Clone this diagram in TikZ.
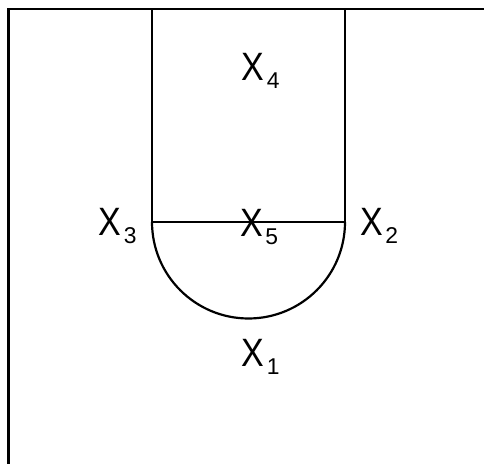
\documentclass[tikz,border=0pt]{standalone}
\usepackage{fontspec}
\setmainfont{Liberation Sans}
\usepackage{tikz}

% player mark: an X with its number hung low on the right
\newcommand{\plr}[1]{\scalebox{0.86}[1]{X}\rlap{\kern1.5pt\smash{\raisebox{-4.5pt}{\fontsize{13}{15}\selectfont #1}}}}

\begin{document}
\begin{tikzpicture}[line width=1.25pt, every node/.style={font=\fontsize{22.5}{26}\selectfont, inner sep=0pt}]
        \useasboundingbox (0,0) rectangle (9.68,9.28);

        % 1. COURT EDGES (baseline and left sideline)
        \draw (9.68,9.10) -- (0.17,9.10) -- (0.17,0);

        % 2. LANE AND FREE THROW CIRCLE
        \draw (3.04,9.10) -- (3.04,4.84) -- (6.90,4.84) -- (6.90,9.10);
        \draw (3.04,4.84) arc[start angle=180, end angle=360, radius=1.93];

        % 3. PLAYERS
        \node (x4) at (5.06,7.94) {\plr{4}};
        \node (x5) at (5.03,4.82) {\plr{5}};
        \node (x3) at (2.20,4.84) {\plr{3}};
        \node (x2) at (7.43,4.84) {\plr{2}};
        \node (x1) at (5.06,2.22) {\plr{1}};

    \end{tikzpicture}
\end{document}
